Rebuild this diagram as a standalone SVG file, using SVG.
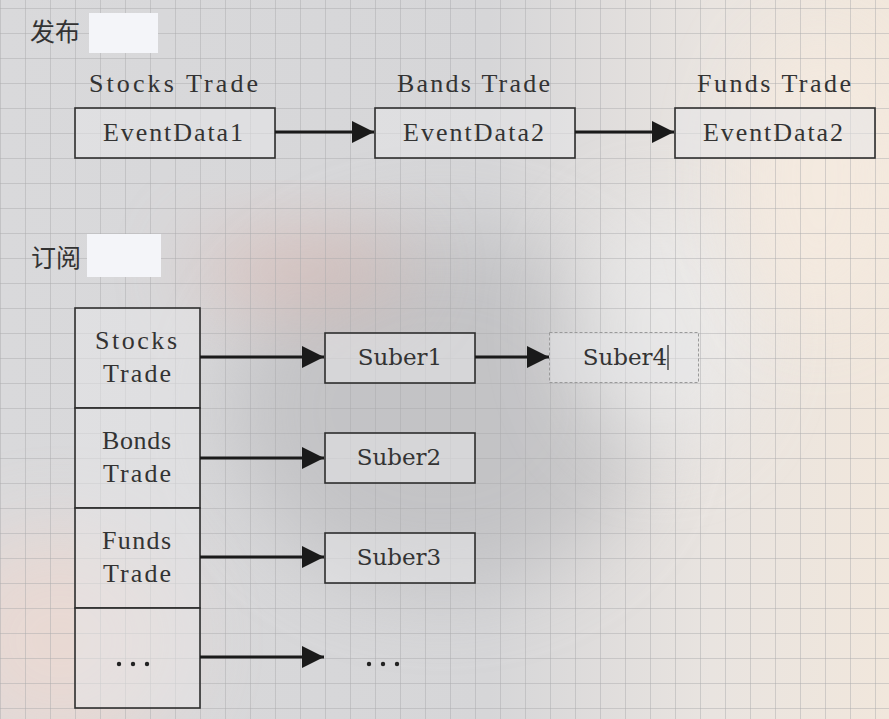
<svg xmlns="http://www.w3.org/2000/svg" width="889" height="719" viewBox="0 0 889 719">
<defs>
<linearGradient id="bg" x1="0" y1="0" x2="1" y2="0">
<stop offset="0" stop-color="#d9d9db"/>
<stop offset="0.55" stop-color="#d6d6d8"/>
<stop offset="0.8" stop-color="#e9e4e0"/>
<stop offset="1" stop-color="#f1e7dc"/>
</linearGradient>
<filter id="blur" x="-50%" y="-50%" width="200%" height="200%"><feGaussianBlur stdDeviation="40"/></filter>
<pattern id="grid" x="0" y="8" width="25" height="25" patternUnits="userSpaceOnUse">
<path d="M0.5 0V25M0 0.5H25" fill="none" stroke="#a9a9ab" stroke-opacity="0.45" stroke-width="1"/>
</pattern>
<marker id="arr" markerWidth="22" markerHeight="22" refX="22" refY="11" orient="auto" markerUnits="userSpaceOnUse">
<path d="M0 0L22 11L0 22Z" fill="#1a1a1a"/>
</marker>
<style>
.box{fill:#e6e6e8;fill-opacity:0.55;stroke:#2e2e2e;stroke-width:1.6}
.dbox{fill:#e6e6e8;fill-opacity:0.5;stroke:#9a9a9a;stroke-width:1;stroke-dasharray:3 2}
.mono{font-family:"Liberation Serif",serif;font-size:26px;fill:#333}
.ser{font-family:"DejaVu Serif","Liberation Serif",serif;font-size:23px;fill:#333}
.cjk{font-family:"Noto Sans CJK SC",sans-serif;font-size:25px;fill:#333}
.link{stroke:#1a1a1a;stroke-width:3;fill:none;marker-end:url(#arr)}
.mask{fill:#f4f5f9}
</style>
</defs>
<g id="background">
<rect width="889" height="719" fill="url(#bg)"/>
<ellipse cx="440" cy="410" rx="210" ry="180" fill="#b9b9bc" opacity="0.65" filter="url(#blur)"/>
<ellipse cx="300" cy="270" rx="110" ry="45" fill="#d9b5ad" opacity="0.55" filter="url(#blur)"/>
<ellipse cx="60" cy="640" rx="120" ry="110" fill="#ecd9d2" opacity="0.8" filter="url(#blur)"/>
<ellipse cx="660" cy="330" rx="90" ry="120" fill="#ececec" opacity="0.7" filter="url(#blur)"/>
<ellipse cx="820" cy="180" rx="80" ry="150" fill="#f6ebe0" opacity="0.8" filter="url(#blur)"/>
<rect width="889" height="719" fill="url(#grid)"/>
</g>
<g id="title-publish">
<text class="cjk" x="30" y="41">发布</text>
<rect class="mask" x="89" y="13" width="69" height="40"/>
</g>
<g id="title-subscribe">
<text class="cjk" x="31" y="267">订阅</text>
<rect class="mask" x="87" y="234" width="74" height="43"/>
</g>
<g id="label-stocks"><text class="mono" x="89" y="92" textLength="169" lengthAdjust="spacing">Stocks Trade</text></g>
<g id="label-bands"><text class="mono" x="397" y="92" textLength="153" lengthAdjust="spacing">Bands Trade</text></g>
<g id="label-funds"><text class="mono" x="697" y="92" textLength="154" lengthAdjust="spacing">Funds Trade</text></g>
<g id="event1">
<rect class="box" x="75" y="108" width="200" height="50"/>
<text class="mono" x="103" y="141" textLength="140" lengthAdjust="spacing">EventData1</text>
</g>
<g id="event2">
<rect class="box" x="375" y="108" width="200" height="50"/>
<text class="mono" x="403" y="141" textLength="141" lengthAdjust="spacing">EventData2</text>
</g>
<g id="event3">
<rect class="box" x="675" y="108" width="200" height="50"/>
<text class="mono" x="703" y="141" textLength="140" lengthAdjust="spacing">EventData2</text>
</g>
<g id="topic-stocks">
<rect class="box" x="75" y="308" width="125" height="100"/>
<text class="mono" x="95" y="349" textLength="82" lengthAdjust="spacing">Stocks</text>
<text class="mono" x="103" y="382" textLength="68" lengthAdjust="spacing">Trade</text>
</g>
<g id="topic-bonds">
<rect class="box" x="75" y="408" width="125" height="100"/>
<text class="mono" x="102" y="449" textLength="69" lengthAdjust="spacing">Bonds</text>
<text class="mono" x="103" y="482" textLength="68" lengthAdjust="spacing">Trade</text>
</g>
<g id="topic-funds">
<rect class="box" x="75" y="508" width="125" height="100"/>
<text class="mono" x="102" y="549" textLength="69" lengthAdjust="spacing">Funds</text>
<text class="mono" x="103" y="582" textLength="68" lengthAdjust="spacing">Trade</text>
</g>
<g id="topic-more">
<rect class="box" x="75" y="608" width="125" height="100"/>
<circle cx="119" cy="664" r="2.2" fill="#222"/>
<circle cx="133" cy="664" r="2.2" fill="#222"/>
<circle cx="147" cy="664" r="2.2" fill="#222"/>
</g>
<g id="suber1">
<rect class="box" x="325" y="333" width="150" height="50"/>
<text class="ser" x="400" y="365" text-anchor="middle">Suber1</text>
</g>
<g id="suber2">
<rect class="box" x="325" y="433" width="150" height="50"/>
<text class="ser" x="399" y="465" text-anchor="middle">Suber2</text>
</g>
<g id="suber3">
<rect class="box" x="325" y="533" width="150" height="50"/>
<text class="ser" x="399" y="565" text-anchor="middle">Suber3</text>
</g>
<g id="suber4">
<rect class="dbox" x="549.5" y="332.5" width="149" height="50"/>
<text class="ser" x="625" y="365" text-anchor="middle">Suber4</text>
<line x1="668" y1="345" x2="668" y2="370" stroke="#222" stroke-width="1.2"/>
</g>
<g id="suber-more">
<circle cx="369" cy="664" r="2.2" fill="#222"/>
<circle cx="383" cy="664" r="2.2" fill="#222"/>
<circle cx="397" cy="664" r="2.2" fill="#222"/>
</g>
<g id="connectors">
<line class="link" x1="275" y1="132" x2="374" y2="132"/>
<line class="link" x1="575" y1="132" x2="674" y2="132"/>
<line class="link" x1="200" y1="357" x2="324" y2="357"/>
<line class="link" x1="475" y1="357" x2="549" y2="357"/>
<line class="link" x1="200" y1="458" x2="324" y2="458"/>
<line class="link" x1="200" y1="557" x2="324" y2="557"/>
<line class="link" x1="200" y1="657" x2="324" y2="657"/>
</g>
</svg>
